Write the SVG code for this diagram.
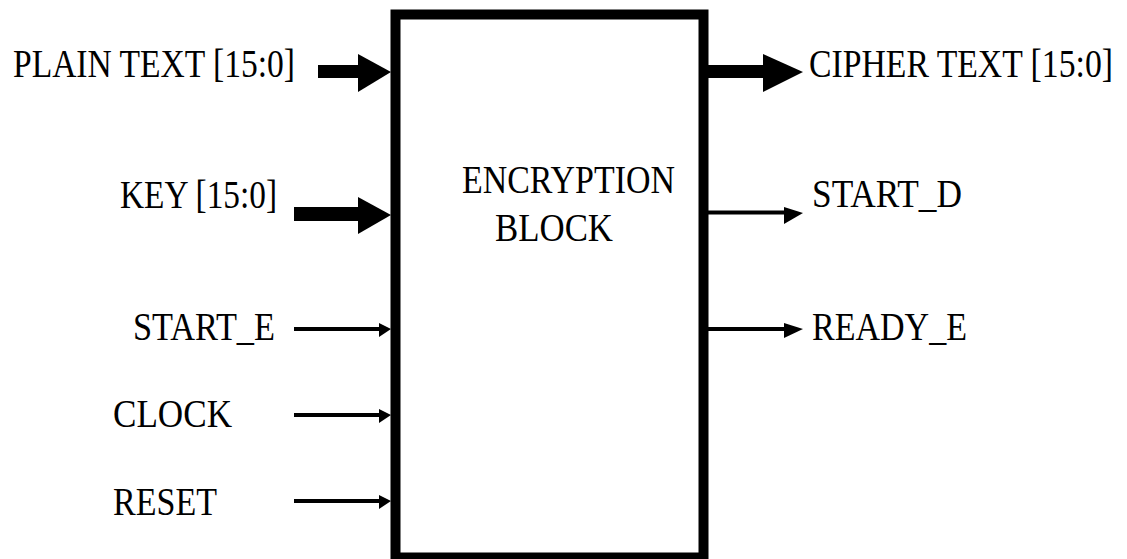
<svg xmlns="http://www.w3.org/2000/svg" width="1127" height="559" viewBox="0 0 1127 559">
<style>
.t{font-family:"Liberation Serif","Times New Roman",serif;font-size:40px;fill:#000}
.thin{stroke:#000;stroke-width:4;fill:none}
.head{fill:#000}
</style>
<rect width="1127" height="559" fill="#fff"/>
<g id="encryption_block">
<rect x="395.5" y="14.5" width="308" height="543" fill="none" stroke="#000" stroke-width="10"/>
<text class="t" x="462" y="193" textLength="213" lengthAdjust="spacingAndGlyphs">ENCRYPTION</text>
<text class="t" x="495" y="241" textLength="118" lengthAdjust="spacingAndGlyphs">BLOCK</text>
</g>
<g id="plain_text"><text class="t" x="13" y="77" textLength="282" lengthAdjust="spacingAndGlyphs">PLAIN TEXT [15:0]</text></g>
<g id="key"><text class="t" x="120" y="208" textLength="157" lengthAdjust="spacingAndGlyphs">KEY [15:0]</text></g>
<g id="start_e"><text class="t" x="133" y="340" textLength="142" lengthAdjust="spacingAndGlyphs">START_E</text></g>
<g id="clock"><text class="t" x="113" y="427" textLength="119" lengthAdjust="spacingAndGlyphs">CLOCK</text></g>
<g id="reset"><text class="t" x="113" y="515" textLength="104" lengthAdjust="spacingAndGlyphs">RESET</text></g>
<g id="cipher_text"><text class="t" x="809" y="77" textLength="304" lengthAdjust="spacingAndGlyphs">CIPHER TEXT [15:0]</text></g>
<g id="start_d"><text class="t" x="812" y="207" textLength="150" lengthAdjust="spacingAndGlyphs">START_D</text></g>
<g id="ready_e"><text class="t" x="812" y="340" textLength="155" lengthAdjust="spacingAndGlyphs">READY_E</text></g>
<g id="connectors">
<rect x="318" y="65" width="42" height="13" class="head"/>
<polygon class="head" points="358,54 391,72 358,92"/>
<rect x="294" y="207" width="66" height="14" class="head"/>
<polygon class="head" points="358,197 391,215 358,234"/>
<rect x="703" y="65" width="62" height="13" class="head"/>
<polygon class="head" points="763,54 803,72 763,92"/>
<line class="thin" x1="294" y1="329" x2="385" y2="329"/>
<polygon class="head" points="379,323 391,329 379,337"/>
<line class="thin" x1="294" y1="415" x2="385" y2="415"/>
<polygon class="head" points="379,409 391,415 379,423"/>
<line class="thin" x1="294" y1="501" x2="385" y2="501"/>
<polygon class="head" points="379,495 391,501 379,509"/>
<line class="thin" x1="708" y1="212.5" x2="790" y2="212.5"/>
<polygon class="head" points="784,207 803,213 784,224"/>
<line class="thin" x1="708" y1="329" x2="790" y2="329"/>
<polygon class="head" points="784,323 803,329 784,338"/>
</g>
</svg>
